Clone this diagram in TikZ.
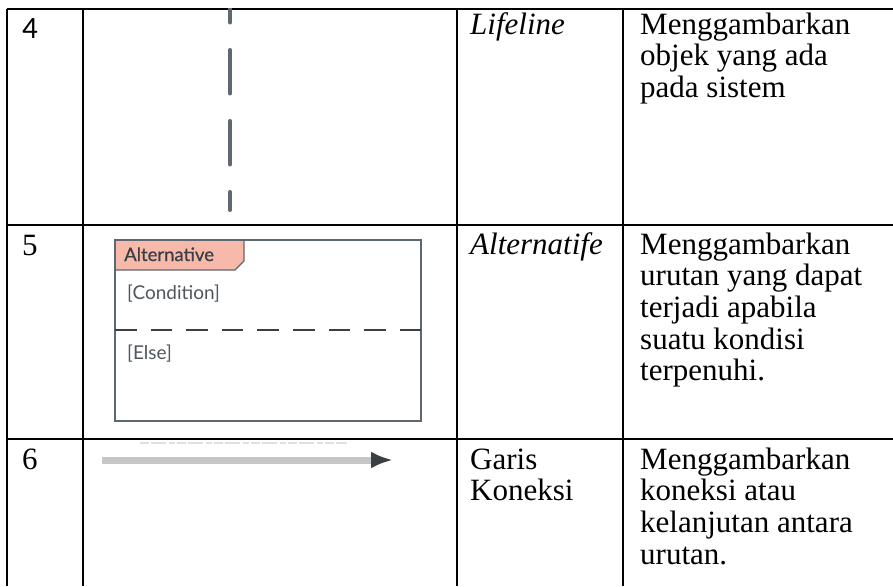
\documentclass[tikz,border=0pt]{standalone}
\usepackage{fontspec}
\setmainfont{Liberation Serif}
\newfontfamily\umlfont{Lato}
\newfontfamily\umlheadfont[FakeBold=0.6]{Lato}
\newfontfamily\numfont{Carlito}
\usetikzlibrary{arrows.meta}
\definecolor{frameGray}{HTML}{5F6770}
\definecolor{tabFill}{HTML}{F6B9AA}
\definecolor{inkGray}{HTML}{50565E}
\definecolor{lineGray}{HTML}{C6C6C6}
\definecolor{headGray}{HTML}{3A3F46}

\begin{document}
\begin{tikzpicture}[x=1pt,y=-1pt,
	rule/.style={line width=1.6pt},
	cell/.style={anchor=base west,inner sep=0pt,align=left,font=\fontsize{31}{31.7}\selectfont},
	termcell/.style={cell,font=\fontsize{31}{31.7}\selectfont\itshape},
	umltext/.style={anchor=base west,inner sep=0pt,text=inkGray,font=\umlfont\fontsize{19}{22}\selectfont}]
	\useasboundingbox (0,0) rectangle (893,586);
	\draw[rule] (7,9) -- (893,9);
	\draw[rule] (7,225) -- (893,225);
	\draw[rule] (7,439) -- (893,439);
	\foreach \x in {7,83,457,623}
		\draw[rule] (\x,9) -- (\x,586);
	% row 4: lifeline
	\begin{scope}
		\clip (83,9) rectangle (457,225);
		\draw[frameGray,line width=3.5pt,line cap=round,dash pattern=on 44pt off 27pt] (230,-21.25) -- (230,210.25);
	\end{scope}
	% multi-line cells are placed at the baseline of their last line
	\node[cell,font=\numfont\fontsize{31}{31.7}\selectfont] (n4) at (22,38) {4};
	\node[termcell] (t4) at (470,35) {Lifeline};
	\node[cell] (d4) at (640,97.4) {Menggambarkan\\objek yang ada\\pada sistem};
	% row 5: alternative frame
	\fill[tabFill] (115,240) -- (244,240) -- (244,261) -- (235,270) -- (115,270) -- cycle;
	\draw[frameGray,line width=1.2pt] (244,240) -- (244,261) -- (235,270) -- (115,270);
	\draw[frameGray,line width=2pt] (115,240) rectangle (421,421);
	\draw[headGray,line width=1.5pt,dash pattern=on 21.6pt off 14pt] (115,330) -- (421,330);
	\node[umltext,text=headGray,font=\umlheadfont\fontsize{18.5}{22}\selectfont] (altname) at (124,261) {Alternative};
	\node[umltext] (cond) at (127,299) {[Condition]};
	\node[umltext] (els) at (127,359) {[Else]};
	\node[cell] (n5) at (22,255) {5};
	\node[termcell] (t5) at (470,254) {Alternatife};
	\node[cell] (d5) at (640,380.8) {Menggambarkan\\urutan yang dapat\\terjadi apabila\\suatu kondisi\\terpenuhi.};
	% row 6: connection line
	\draw[gray!25,line width=2.5pt,dash pattern=on 9pt off 2pt on 15pt off 3pt on 6pt off 2pt] (140,443) -- (347,443);
	\coordinate (cstart) at (102,460);
	\coordinate (cend) at (393,460);
	\draw[lineGray,line width=7pt,-{Latex[length=22pt,width=17pt,color=headGray]}] (cstart) -- (cend);
	\node[cell] (n6) at (22,469) {6};
	\node[cell] (t6) at (470,500.7) {Garis\\Koneksi};
	\node[cell] (d6) at (640,564.1) {Menggambarkan\\koneksi atau\\kelanjutan antara\\urutan.};
\end{tikzpicture}
\end{document}
